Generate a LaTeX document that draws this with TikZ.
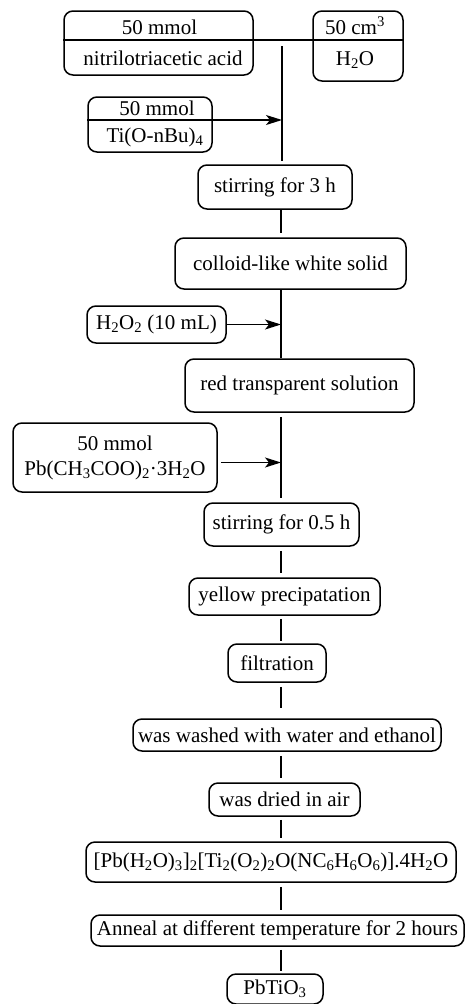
\documentclass[tikz,border=0pt]{standalone}
\usepackage{fontspec}
\setmainfont{Liberation Serif}
\usetikzlibrary{arrows.meta}
\begin{document}
\begin{tikzpicture}[x=1pt,y=-1pt,
	stage/.style={draw,rounded corners=9pt,line width=1.5pt,inner sep=1pt,align=center,font=\fontsize{21}{25}\selectfont},
	txt/.style={inner sep=0pt,anchor=base,font=\fontsize{21}{25}\selectfont},
	link/.style={line width=1.4pt,shorten <=4pt,shorten >=4pt},
	feed/.style={line width=1.4pt,-{Stealth[length=16pt,width=10pt,inset=4pt]}}]
	\useasboundingbox (0,0) rectangle (465,1004);
	\coordinate (spine) at (281,0);
	% starting reagents
	\node[stage,minimum width=189pt,minimum height=64pt] (nta) at (158.5,43) {};
	\node[stage,minimum width=90pt,minimum height=70pt] (water) at (358,46) {};
	\node[txt] (ntaamt) at (159.5,34) {50 mmol};
	\node[txt] (ntaname) at (163,65) {nitrilotriacetic acid};
	\node[txt] (wateramt) at (355,34) {50 cm\textsuperscript{3}};
	\node[txt] (watername) at (355,65) {H\textsubscript{2}O};
	\coordinate (topsplit) at (0,40);
	\draw[line width=1.4pt] (nta.west |- topsplit) -- (water.east |- topsplit);
	\node[stage,minimum width=124pt,minimum height=55pt] (tib) at (150,124.5) {};
	\node[txt] (tibamt) at (157,115) {50 mmol};
	\node[txt] (tibname) at (155,142) {Ti(O-nBu)\textsubscript{4}};
	\coordinate (tisplit) at (0,120);
	\coordinate (mixtop) at (282,46);
	% process steps
	\node[stage,minimum width=154pt,minimum height=44pt] (stir1) at (275,187) {stirring for 3 h};
	\node[stage,minimum width=231pt,minimum height=51pt] (colloid) at (290.5,263.5) {colloid-like white solid};
	\node[stage,minimum width=139pt,minimum height=37pt] (perox) at (156.5,324.5) {H\textsubscript{2}O\textsubscript{2} (10 mL)};
	\node[stage,minimum width=229pt,minimum height=53pt] (redsol) at (299.5,385.5) {red transparent solution};
	\node[stage,minimum width=204pt,minimum height=69pt] (lead) at (115,457.5) {50 mmol\\Pb(CH\textsubscript{3}COO)\textsubscript{2}\textperiodcentered3H\textsubscript{2}O};
	\node[stage,minimum width=155pt,minimum height=43pt] (stir2) at (281.5,524.5) {stirring for 0.5 h};
	\node[stage,minimum width=191pt,minimum height=37pt] (yellow) at (284.5,596.5) {yellow precipatation};
	\node[stage,minimum width=98pt,minimum height=38pt] (filt) at (277,663) {filtration};
	\node[stage,minimum width=308pt,minimum height=32pt] (wash) at (287,735) {was washed with water and ethanol};
	\node[stage,minimum width=151pt,minimum height=33pt] (dry) at (284.5,799.5) {was dried in air};
	\node[stage,minimum width=370pt,minimum height=40pt] (precursor) at (271,862) {[Pb(H\textsubscript{2}O)\textsubscript{3}]\textsubscript{2}[Ti\textsubscript{2}(O\textsubscript{2})\textsubscript{2}O(NC\textsubscript{6}H\textsubscript{6}O\textsubscript{6})].4H\textsubscript{2}O};
	\node[stage,minimum width=373pt,minimum height=31pt] (anneal) at (277.5,930.5) {Anneal at different temperature for 2 hours};
	\node[stage,minimum width=96pt,minimum height=30pt] (product) at (275,989) {PbTiO\textsubscript{3}};
	% connectors
	\draw[feed] (tib.west |- tisplit) -- (mixtop |- tisplit);
	\draw[line width=1.4pt,shorten >=3pt] (mixtop) -- (mixtop |- stir1.north);
	\draw[link,shorten <=0pt] (spine |- stir1.south) -- (spine |- colloid.north);
	\draw[line width=1.4pt] (spine |- colloid.south) -- (spine |- redsol.north);
	\draw[feed] (perox.east) -- (spine |- perox.east);
	\draw[link] (spine |- redsol.south) -- (spine |- stir2.north);
	\coordinate (leadout) at ([yshift=-5pt]lead.east);
	\draw[feed,shorten <=3pt] (leadout) -- (spine |- leadout);
	\draw[link] (spine |- stir2.south) -- (spine |- yellow.north);
	\draw[link,shorten <=3pt,shorten >=2pt] (spine |- yellow.south) -- (spine |- filt.north);
	\draw[link,shorten >=10pt] (spine |- filt.south) -- (spine |- wash.north);
	\draw[link] (spine |- wash.south) -- (spine |- dry.north);
	\draw[link,shorten <=3pt,shorten >=3pt] (spine |- dry.south) -- (spine |- precursor.north);
	\draw[link] (spine |- precursor.south) -- (spine |- anneal.north);
	\draw[link,shorten <=3pt,shorten >=2pt] (spine |- anneal.south) -- (spine |- product.north);
\end{tikzpicture}
\end{document}
